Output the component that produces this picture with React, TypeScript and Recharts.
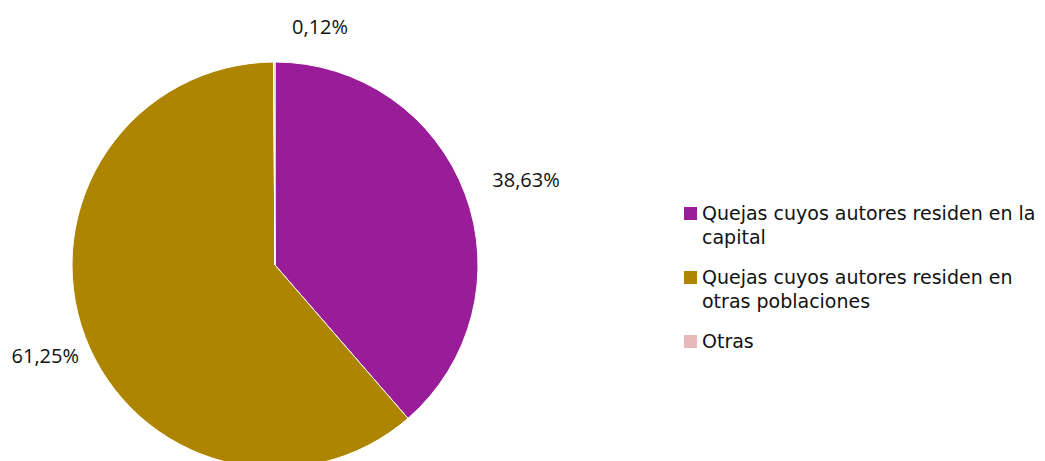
import { Legend, Pie, PieChart, Cell } from "recharts";

const categories = [
  "Quejas cuyos autores residen en la capital",
  "Quejas cuyos autores residen en otras poblaciones",
  "Otras",
];
const shares = [38.63, 61.25, 0.12];
const shareLabels = ["38,63%", "61,25%", "0,12%"];
const colors = ["#991c99", "#ad8500", "#e6b9b8"];

const data = categories.map((name, i) => ({ name, value: shares[i], label: shareLabels[i] }));

const RAD = Math.PI / 180;

function renderLabel(props: any) {
  const { cx, cy, midAngle, outerRadius, index, percent } = props;
  const r = outerRadius + 50;
  let x = cx + r * Math.cos(-midAngle * RAD);
  let y = cy + r * Math.sin(-midAngle * RAD);
  // tiny slice label sits off to the side, like Excel does it
  if (percent < 0.01) {
    x += 46;
    y += 14;
  } else if (x > cx) {
    x += 14;
    y += 3;
  } else {
    x += 7;
    y += 1;
  }
  return (
    <text
      x={x}
      y={y}
      textAnchor="middle"
      dominantBaseline="central"
      fill="#111"
      fontSize={20}
      fontFamily="'Open Sans', sans-serif"
    >
      {data[index].label}
    </text>
  );
}

function LegendList() {
  return (
    <div style={{ fontFamily: "'DejaVu Sans', sans-serif", fontSize: 19, color: "#111", lineHeight: "24px" }}>
      {data.map((d, i) => (
        <div key={d.name} style={{ display: "flex", alignItems: "flex-start", marginBottom: 16 }}>
          <span
            style={{
              width: 13,
              height: 13,
              background: colors[i],
              marginTop: 6,
              marginRight: 5,
              flex: "0 0 auto",
            }}
          />
          <span>{d.name}</span>
        </div>
      ))}
    </div>
  );
}

export default function App() {
  return (
    <div style={{ position: "absolute", left: 0, top: 0, background: "#fff" }}>
      <PieChart width={1045} height={461} margin={{ top: 0, right: 0, bottom: 0, left: 0 }}>
        <Pie
          data={data}
          dataKey="value"
          nameKey="name"
          cx={275}
          cy={265}
          outerRadius={203}
          startAngle={90}
          endAngle={-270}
          stroke="#ffffff"
          strokeWidth={1}
          label={renderLabel}
          labelLine={false}
          isAnimationActive={false}
        >
          {data.map((d, i) => (
            <Cell key={d.name} fill={colors[i]} />
          ))}
        </Pie>
        <Legend
          layout="vertical"
          content={<LegendList />}
          wrapperStyle={{ left: 684, top: 201, width: 361 }}
        />
      </PieChart>
    </div>
  );
}
